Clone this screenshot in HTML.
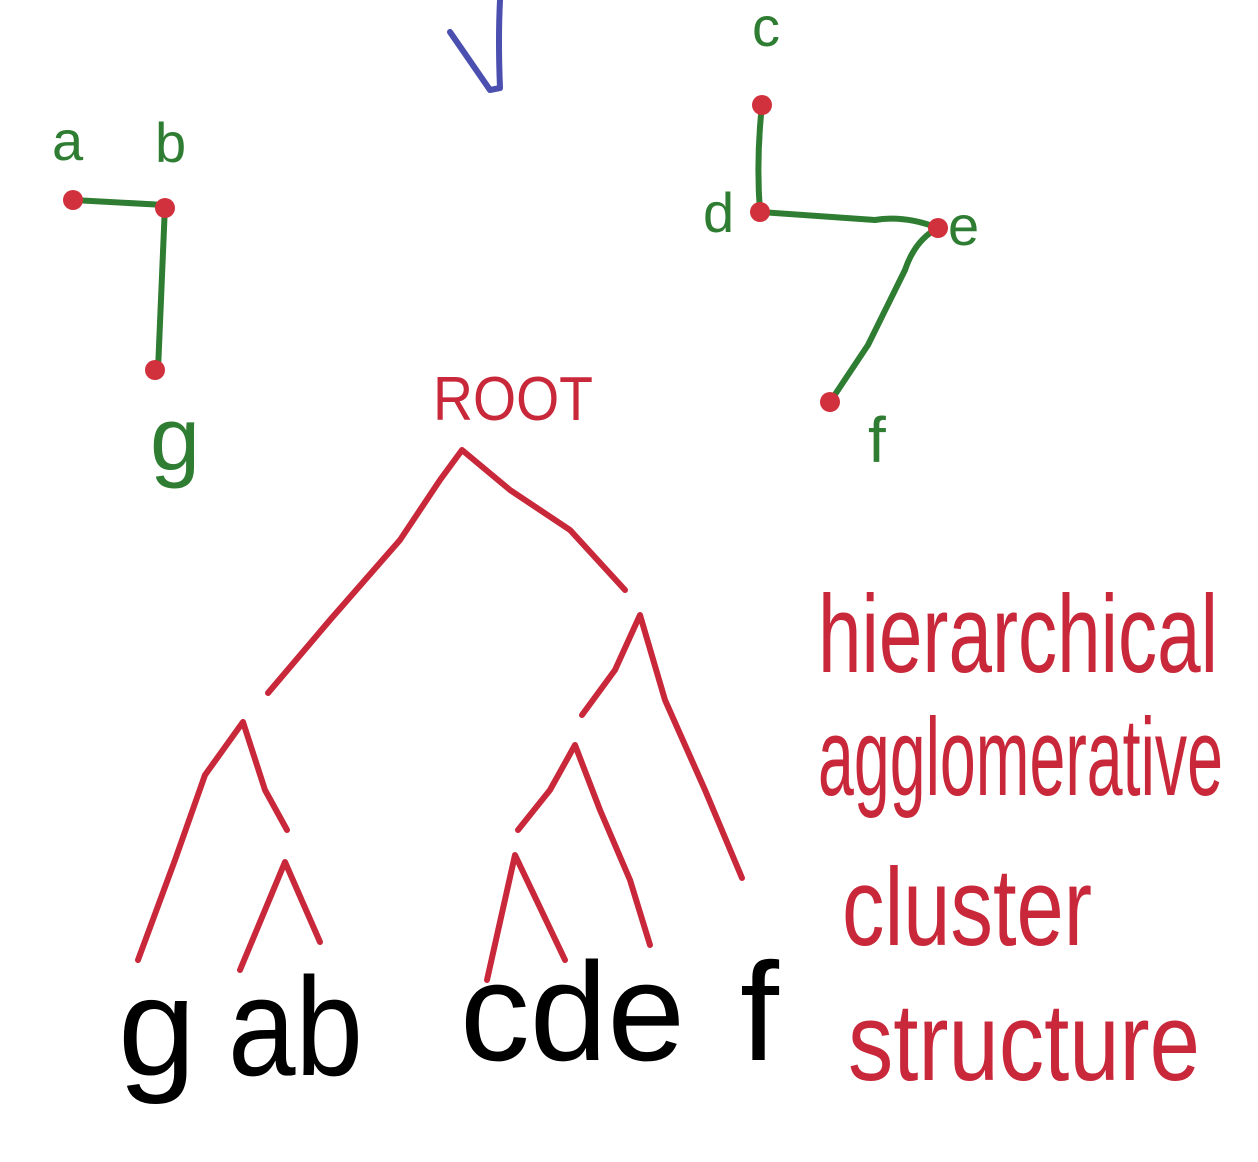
<!DOCTYPE html>
<html><head><meta charset="utf-8"><style>
html,body{margin:0;padding:0;background:#fff;}
svg{display:block;}
text{font-family:"Liberation Sans",sans-serif;}
</style></head><body>
<svg width="1258" height="1162" viewBox="0 0 1258 1162" xmlns="http://www.w3.org/2000/svg">
<g fill="none" stroke-linecap="round" stroke-linejoin="round">
<path d="M450 32 L490 90 L500 88 Q498 40 500 0" stroke="#4a4fb0" stroke-width="6"/>
<path d="M73 200 L165 205 L158 370" stroke="#2e7d32" stroke-width="6"/>
<path d="M762 105 Q756 160 760 212 L875 220 Q905 215 938 228 Q915 240 905 270 L868 345 L830 402" stroke="#2e7d32" stroke-width="6"/>
<g stroke="#c8283a" stroke-width="6">
<path d="M268 693 L330 620 L400 540 L440 480 L462 450 L510 490 L570 530 L625 590"/>
<path d="M582 715 L615 670 L640 615 L665 700 L705 790 L742 878"/>
<path d="M138 960 L175 860 L205 775 L243 722 L265 790 L287 830"/>
<path d="M240 970 L285 862 L320 942"/>
<path d="M518 830 L550 790 L575 745 L600 810 L630 880 L650 945"/>
<path d="M487 980 L515 855 L565 960"/>
</g>
</g>
<g fill="#d0313d">
<circle cx="73" cy="200" r="10"/><circle cx="165" cy="208" r="10"/><circle cx="155" cy="370" r="10"/>
<circle cx="762" cy="105" r="10"/><circle cx="760" cy="212" r="10"/><circle cx="938" cy="228" r="10"/><circle cx="830" cy="402" r="10"/>
</g>
<g fill="#2e7d32" font-size="56">
<text x="52" y="160">a</text>
<text x="155" y="162">b</text>
<text x="150" y="470" font-size="90">g</text>
<text x="752" y="46">c</text>
<text x="703" y="232">d</text>
<text x="948" y="245">e</text>
<text x="868" y="462" font-size="64">f</text>
</g>
<text x="433" y="420" fill="#c8283a" font-size="62" textLength="160" lengthAdjust="spacingAndGlyphs">ROOT</text>
<g fill="#000" font-size="140">
<text x="118" y="1075">g</text>
<text x="228" y="1075" textLength="135" lengthAdjust="spacingAndGlyphs">ab</text>
<text x="460" y="1060" textLength="225" lengthAdjust="spacingAndGlyphs">cde</text>
<text x="740" y="1060">f</text>
</g>
<g fill="#c8283a" font-size="110">
<text x="818" y="672" textLength="400" lengthAdjust="spacingAndGlyphs">hierarchical</text>
<text x="818" y="795" textLength="405" lengthAdjust="spacingAndGlyphs">agglomerative</text>
<text x="842" y="945" textLength="250" lengthAdjust="spacingAndGlyphs">cluster</text>
<text x="848" y="1080" textLength="352" lengthAdjust="spacingAndGlyphs">structure</text>
</g>
</svg>
</body></html>
